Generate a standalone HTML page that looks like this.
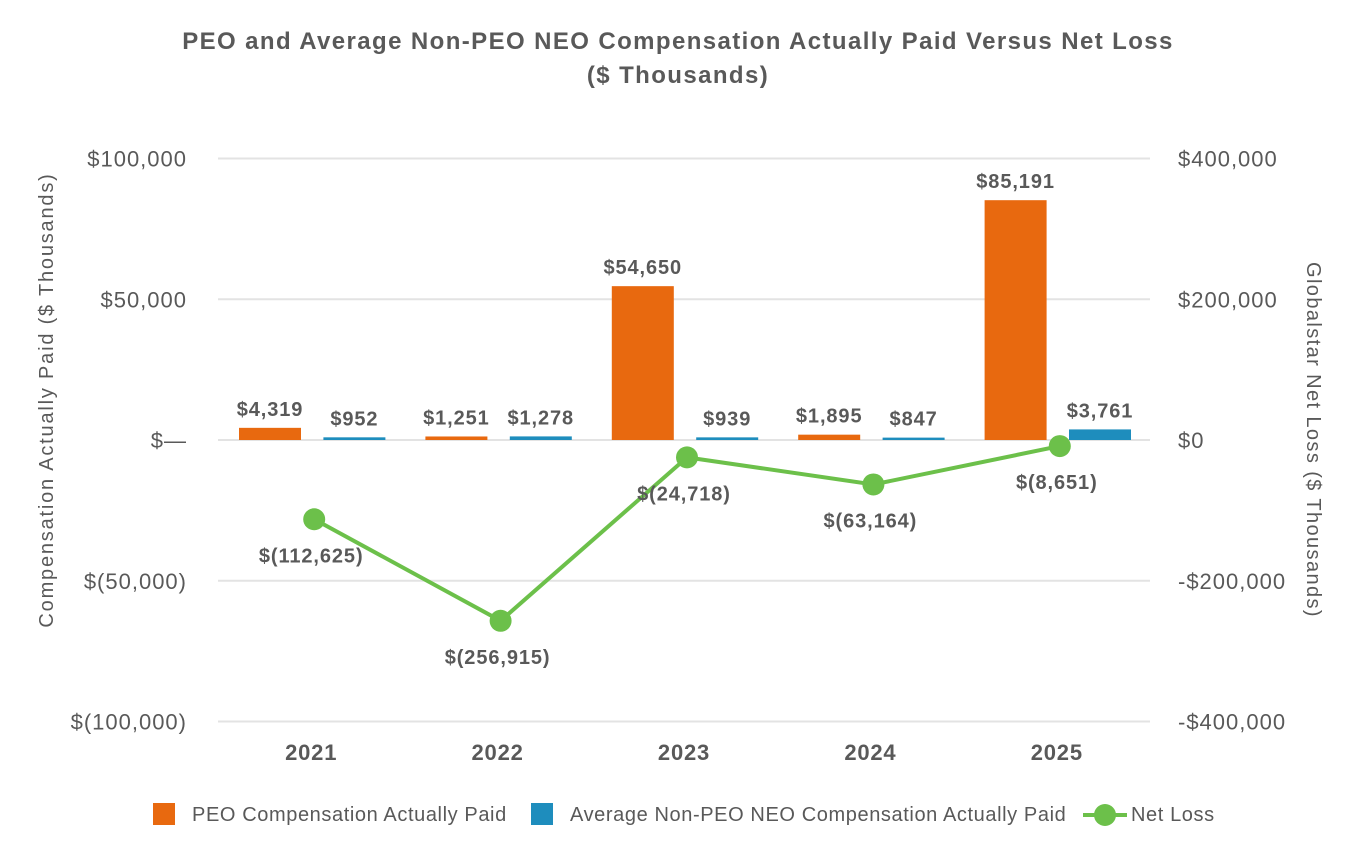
<!DOCTYPE html>
<html><head><meta charset="utf-8">
<style>
html,body{margin:0;padding:0;background:#fff;}
svg{display:block;font-family:"Liberation Sans",Arial,sans-serif;}
</style></head>
<body>
<svg id="chart" width="1360" height="864" viewBox="0 0 1360 864">
<text x="678" y="49" text-anchor="middle" font-size="24" letter-spacing="1.4" font-weight="bold" fill="#595959">PEO and Average Non-PEO NEO Compensation Actually Paid Versus Net Loss</text>
<text x="678" y="83" text-anchor="middle" font-size="24" letter-spacing="1.4" font-weight="bold" fill="#595959">($ Thousands)</text>
<g id="grid"></g>
<g id="yl"></g>
<g id="yr"></g>
<g id="bars"></g>
<g id="line"></g>
<g id="xl"></g>
<text transform="translate(53,400) rotate(-90)" text-anchor="middle" font-size="20" letter-spacing="1.8" fill="#595959">Compensation Actually Paid ($ Thousands)</text>
<text transform="translate(1307,440) rotate(90)" text-anchor="middle" font-size="20" letter-spacing="1.4" fill="#595959">Globalstar Net Loss ($ Thousands)</text>
<g>
<g><rect x="153" y="803" width="22" height="22" fill="#E8690F"/><text x="192" y="821" font-size="20" letter-spacing="0.6" fill="#595959">PEO Compensation Actually Paid</text></g>
<g><rect x="531" y="803" width="22" height="22" fill="#1E8DBD"/><text x="570" y="821" font-size="20" letter-spacing="0.6" fill="#595959">Average Non-PEO NEO Compensation Actually Paid</text></g>
<g><line x1="1083" y1="815" x2="1127" y2="815" stroke="#6CC04A" stroke-width="4"/><circle cx="1105" cy="815" r="11" fill="#6CC04A"/><text x="1131" y="821" font-size="20" letter-spacing="0.6" fill="#595959">Net Loss</text></g>
</g>
</svg>
<script>
const categories=["2021","2022","2023","2024","2025"];
const peoValues=[4319,1251,54650,1895,85191];
const nonPeoValues=[952,1278,939,847,3761];
const netLossValues=[-112625,-256915,-24718,-63164,-8651];
const leftTicks=[100000,50000,0,-50000,-100000];
const leftTickLabels=["$100,000","$50,000","$—","$(50,000)","$(100,000)"];
const rightTicks=[400000,200000,0,-200000,-400000];
const rightTickLabels=["$400,000","$200,000","$0","-$200,000","-$400,000"];
const peoLabels=["$4,319","$1,251","$54,650","$1,895","$85,191"];
const nonPeoLabels=["$952","$1,278","$939","$847","$3,761"];
const netLossLabels=["$(112,625)","$(256,915)","$(24,718)","$(63,164)","$(8,651)"];

const NS="http://www.w3.org/2000/svg";
const X0=218,X1=1150,Y0=440,PX=281.5;
const yL=v=>Y0-v/100000*PX;
const yR=v=>Y0-v/400000*PX;
const cw=(X1-X0)/categories.length;
const xc=i=>X0+cw*(i+0.5);
function mk(tag,attrs,parent,txt){const e=document.createElementNS(NS,tag);for(const k in attrs)e.setAttribute(k,attrs[k]);if(txt!==undefined)e.textContent=txt;parent.appendChild(e);return e;}
const g=id=>document.getElementById(id);

leftTicks.forEach((t,i)=>{
  const l=mk('line',{x1:X0,x2:X1,y1:yL(t),y2:yL(t),stroke:'#e3e3e3','stroke-width':2},g('grid'));
  
  
  const tx=mk('text',{x:187,y:yL(t)+8,'text-anchor':'end','font-size':22,'letter-spacing':1,fill:'#595959'},g('yl'),leftTickLabels[i]);
  
  
});
rightTicks.forEach((t,i)=>{
  const tx=mk('text',{x:1178,y:yR(t)+8,'font-size':22,'letter-spacing':1,fill:'#595959'},g('yr'),rightTickLabels[i]);
  
  
});
const bw=62;
categories.forEach((c,i)=>{
  const x=xc(i);
  const ox=x-cw/2+21, bx=x+cw/2-19-bw;
  const p=peoValues[i], n=nonPeoValues[i];
  const r1=mk('rect',{x:ox,y:Math.min(yL(p),Y0),width:bw,height:Math.abs(yL(p)-Y0),fill:'#E8690F'},g('bars'));
  
  
  const r2=mk('rect',{x:bx,y:Math.min(yL(n),Y0),width:bw,height:Math.max(2,Math.abs(yL(n)-Y0)),fill:'#1E8DBD'},g('bars'));
  
  
  const t1=mk('text',{x:ox+bw/2,y:yL(p)-12,'text-anchor':'middle','font-size':20,'letter-spacing':0.9,'font-weight':'bold',fill:'#595959'},g('bars'),peoLabels[i]);
  
  
  const t2=mk('text',{x:bx+bw/2,y:Math.min(yL(n),Y0-2)-12,'text-anchor':'middle','font-size':20,'letter-spacing':0.9,'font-weight':'bold',fill:'#595959'},g('bars'),nonPeoLabels[i]);
  
  
  const xt=mk('text',{x:x,y:760,'text-anchor':'middle','font-size':22,'letter-spacing':0.8,'font-weight':'bold',fill:'#595959'},g('xl'),c);
  
  
});
const pts=netLossValues.map((v,i)=>[xc(i)+3,yR(v)]);
const pl=mk('polyline',{points:pts.map(p=>p.join(',')).join(' '),fill:'none',stroke:'#6CC04A','stroke-width':4},g('line'));


pts.forEach((p,i)=>{
  const c=mk('circle',{cx:p[0],cy:p[1],r:11,fill:'#6CC04A'},g('line'));
  
  
  const t=mk('text',{x:p[0]-3,y:p[1]+43,'text-anchor':'middle','font-size':20,'letter-spacing':0.9,'font-weight':'bold',fill:'#595959'},g('line'),netLossLabels[i]);
  
  
});
</script>
</body></html>
